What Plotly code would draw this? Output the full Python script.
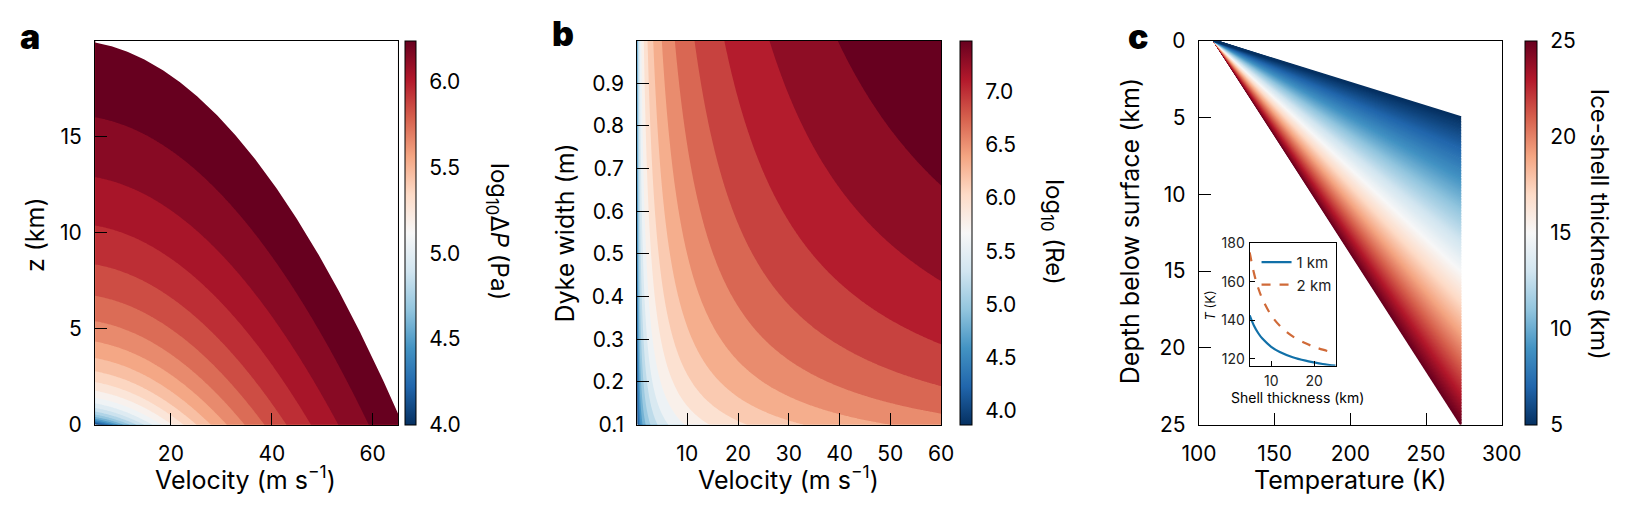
import numpy as np
import plotly.graph_objects as go
from plotly.colors import sample_colorscale

# ------------------------------------------------------------------
# Values
# ------------------------------------------------------------------
# Panel a : log10 ΔP over velocity and height z
dp_velocity_range = [5.0, 65.0]        # m s-1 (x extent)
dp_z_top_km = 19.9                     # top of the computed domain at the left edge
dp_z_axis_range = [0.0, 20.0]
dp_log10_range = [4.0, 6.24]           # colour-bar limits
dp_n_levels = 24
dp_curvature = 0.0046                  # km per (m s-1)^2, shape of the iso-lines
a_xticks = [20, 40, 60]
a_yticks = [0, 5, 10, 15]
a_cbar_ticks = [4.0, 4.5, 5.0, 5.5, 6.0]

# Panel b : log10 Re over velocity and dyke width
re_velocity_range = [0.15, 60.0]
re_width_range = [0.1, 1.0]
re_log10_range = [3.873, 7.475]
re_n_levels = 20
b_xticks = [10, 20, 30, 40, 50, 60]
b_yticks = [0.1, 0.2, 0.3, 0.4, 0.5, 0.6, 0.7, 0.8, 0.9]
b_cbar_ticks = [4.0, 4.5, 5.0, 5.5, 6.0, 6.5, 7.0]

# Panel c : conductive temperature profiles
surface_T = 110.0                      # K
base_T = 273.15                        # K
shell_thickness_range = [5.0, 25.0]    # km
n_profiles = 201
c_xticks = [100, 150, 200, 250, 300]
c_yticks = [0, 5, 10, 15, 20, 25]
c_cbar_ticks = [5, 10, 15, 20, 25]

# Inset : temperature at fixed depth vs shell thickness
inset_thickness = [5, 6, 7, 8, 10, 12, 15, 18, 20, 22, 25]
inset_T_1km = [142.6, 137.2, 133.3, 130.4, 126.3, 123.6, 120.9, 119.1, 118.2, 117.4, 116.5]
inset_T_2km = [175.2, 164.3, 156.6, 150.8, 142.6, 137.2, 131.7, 128.1, 126.3, 124.8, 123.0]
inset_xticks = [10, 20]
inset_yticks = [120, 140, 160, 180]

# ------------------------------------------------------------------
W, H = 1636, 507
FONT = "Inter"
RDBU_R = ['#053061', '#2166ac', '#4393c3', '#92c5de', '#d1e5f0', '#f7f7f7',
          '#fddbc7', '#f4a582', '#d6604d', '#b2182b', '#67001f']
rdbu_r = [[i / 10, c] for i, c in enumerate(RDBU_R)]


def X(px):
    return px / W


def Y(py):
    return 1 - py / H


y_dom = [Y(433), Y(29)]

# ---------------- panel a field ----------------
v_a = np.linspace(dp_velocity_range[0], dp_velocity_range[1], 241)
z_a = np.unique(np.concatenate([np.linspace(0, dp_z_axis_range[1], 201),
                                np.geomspace(1e-3, 3.0, 120), [0.0]]))
V, Z = np.meshgrid(v_a, z_a)
v0 = dp_velocity_range[0]
log_dp = dp_log10_range[0] + np.log10((Z + dp_curvature * V ** 2) / (dp_curvature * v0 ** 2))
log_dp = np.round(log_dp, 4)
cs_a = (dp_log10_range[1] - dp_log10_range[0]) / dp_n_levels
# outer limit of the computed domain (iso-line through the top-left corner)
z_lim = dp_z_top_km + dp_curvature * (v0 ** 2 - v_a ** 2)

# ---------------- panel b field ----------------
v_b = np.unique(np.concatenate([np.geomspace(re_velocity_range[0], 6, 120),
                                np.linspace(re_velocity_range[0], re_velocity_range[1], 240)]))
w_b = np.linspace(re_width_range[0], re_width_range[1], 181)
VB, WB = np.meshgrid(v_b, w_b)
log_re = re_log10_range[1] + np.log10(VB * WB / (re_velocity_range[1] * re_width_range[1]))
log_re = np.round(log_re, 4)
cs_b = (re_log10_range[1] - re_log10_range[0]) / re_n_levels


def cbar(xpx, thick, ticks, fmt):
    return dict(x=X(xpx), xanchor='left', xpad=0, y=y_dom[0], yanchor='bottom', ypad=0,
                len=y_dom[1] - y_dom[0], lenmode='fraction', thickness=thick,
                thicknessmode='pixels', outlinewidth=1, outlinecolor='black',
                tickmode='array', tickvals=ticks, ticktext=[fmt.format(t) for t in ticks],
                ticks='outside', ticklen=9, tickcolor='rgba(0,0,0,0)',
                tickfont=dict(size=21, color='black', family=FONT))


def scale_trace(xa, ya, rng, cb):
    # invisible trace that only carries a continuous colour bar
    return go.Scatter(x=[None, None], y=[None, None], mode='markers', xaxis=xa, yaxis=ya,
                      marker=dict(color=rng, colorscale=rdbu_r, cmin=rng[0], cmax=rng[1],
                                  showscale=True, colorbar=cb),
                      showlegend=False, hoverinfo='skip')


fig = go.Figure()

fig.add_trace(go.Contour(
    x=v_a, y=z_a, z=log_dp, xaxis='x', yaxis='y',
    colorscale=rdbu_r, zmin=dp_log10_range[0], zmax=dp_log10_range[1],
    autocontour=False, showscale=False,
    contours=dict(start=dp_log10_range[0] + cs_a, end=dp_log10_range[1] - cs_a * 0.999,
                  size=cs_a, coloring='fill', showlines=False),
    line=dict(width=0), hoverinfo='skip'))
fig.add_trace(scale_trace('x', 'y', dp_log10_range, cbar(396, 11, a_cbar_ticks, "{:.1f}")))

# white area beyond the computed domain
fig.add_trace(go.Scatter(
    x=np.concatenate([v_a, [v_a[-1] + 5, v_a[-1] + 5, v_a[0]]]),
    y=np.concatenate([z_lim, [z_lim[-1], dp_z_axis_range[1] + 5, dp_z_axis_range[1] + 5]]),
    fill='toself', fillcolor='white', mode='lines', line=dict(width=0),
    xaxis='x', yaxis='y', showlegend=False, hoverinfo='skip'))

fig.add_trace(go.Contour(
    x=v_b, y=w_b, z=log_re, xaxis='x2', yaxis='y2',
    colorscale=rdbu_r, zmin=re_log10_range[0], zmax=re_log10_range[1],
    autocontour=False, showscale=False,
    contours=dict(start=re_log10_range[0] + cs_b, end=re_log10_range[1] - cs_b * 0.999,
                  size=cs_b, coloring='fill', showlines=False),
    line=dict(width=0), hoverinfo='skip'))
fig.add_trace(scale_trace('x2', 'y2', re_log10_range, cbar(964, 12, b_cbar_ticks, "{:.1f}")))

# panel c profiles
thick = np.linspace(shell_thickness_range[0], shell_thickness_range[1], n_profiles)
cols = sample_colorscale(rdbu_r, list((thick - thick[0]) / (thick[-1] - thick[0])))
for D, col in zip(thick[::-1], cols[::-1]):
    fig.add_trace(go.Scatter(x=[surface_T, base_T], y=[0, D], mode='lines',
                             line=dict(color=col, width=2.2), xaxis='x3', yaxis='y3',
                             showlegend=False, hoverinfo='skip'))
fig.add_trace(scale_trace('x3', 'y3', shell_thickness_range,
                          cbar(1543, 12, c_cbar_ticks, "{:d}")))

# inset
fig.add_trace(go.Scatter(x=inset_thickness, y=inset_T_1km, mode='lines', name='1 km',
                         line=dict(color='#1170a8', width=2.2, shape='spline'),
                         xaxis='x4', yaxis='y4'))
fig.add_trace(go.Scatter(x=inset_thickness, y=inset_T_2km, mode='lines', name='2 km',
                         line=dict(color='#d06a38', width=2.2, dash='dash', shape='spline'),
                         xaxis='x4', yaxis='y4'))

axis_common = dict(showline=True, linecolor='black', linewidth=1.2, mirror=True,
                   ticks='inside', ticklen=12, tickwidth=1.2, tickcolor='black',
                   showgrid=False, zeroline=False,
                   tickfont=dict(size=21, color='black', family=FONT))
xax = dict(axis_common, ticklabelstandoff=10)
yax = dict(axis_common, ticklabelstandoff=8)

fig.update_layout(
    width=W, height=H, margin=dict(l=0, r=0, t=0, b=0),
    paper_bgcolor='white', plot_bgcolor='white',
    font=dict(family=FONT, color='black'),
    xaxis=dict(domain=[X(79), X(389)], range=dp_velocity_range, anchor='y',
               tickvals=a_xticks, **xax),
    yaxis=dict(domain=y_dom, range=dp_z_axis_range, anchor='x',
               tickvals=a_yticks, **yax),
    xaxis2=dict(domain=[X(634), X(945)], range=re_velocity_range, anchor='y2',
                tickvals=b_xticks, **xax),
    yaxis2=dict(domain=y_dom, range=re_width_range, anchor='x2',
                tickvals=b_yticks, ticktext=[f"{t:.1f}" for t in b_yticks], **yax),
    xaxis3=dict(domain=[X(1209), X(1519)], range=[100, 300], anchor='y3',
                tickvals=c_xticks, **xax),
    yaxis3=dict(domain=y_dom, range=[25, 0], anchor='x3',
                tickvals=c_yticks, **yax),
    xaxis4=dict(domain=[X(1261), X(1349)], range=[5, 25], anchor='y4',
                tickvals=inset_xticks, showline=True, linecolor='black', linewidth=1.2,
                mirror=True, ticks='inside', ticklen=5, tickcolor='black', showgrid=False,
                zeroline=False, ticklabelstandoff=2,
                tickfont=dict(size=14, color='#222', family=FONT)),
    yaxis4=dict(domain=[Y(371), Y(242)], range=[116.5, 180], anchor='x4',
                tickvals=inset_yticks, showline=True, linecolor='black', linewidth=1.2,
                mirror=True, ticks='inside', ticklen=5, tickcolor='black', showgrid=False,
                zeroline=False, ticklabelstandoff=1,
                tickfont=dict(size=14, color='#222', family=FONT)),
    legend=dict(x=X(1268), y=Y(245), xanchor='left', yanchor='top',
                bgcolor='rgba(0,0,0,0)', font=dict(size=15, family=FONT, color='#222'),
                itemwidth=30, tracegroupgap=0),
    showlegend=True,
)

ann = []


def add_text(text, xpx, ypx, size, angle=0, xanchor='center', yanchor='middle', weight=None):
    f = dict(size=size, family=FONT, color='black')
    if weight:
        f['weight'] = weight
    ann.append(dict(text=text, x=X(xpx), y=Y(ypx), xref='paper', yref='paper',
                    showarrow=False, textangle=angle, xanchor=xanchor, yanchor=yanchor,
                    font=f))


add_text("a", 0, 1, 34, xanchor='left', yanchor='top', weight=900)
add_text("b", 545, -2, 34, xanchor='left', yanchor='top', weight=900)
add_text("c", 1134, 1, 34, xanchor='left', yanchor='top', weight=900)

add_text("Velocity (m s<sup>−1</sup>)", 233, 489, 25)
add_text("z (km)", 17, 233, 25, angle=-90)
add_text("Velocity (m s<sup>−1</sup>)", 789, 489, 25)
add_text("Dyke width (m)", 560, 231, 25, angle=-90)
add_text("Temperature (K)", 1364, 491, 25)
add_text("Depth below surface (km)", 1138, 230, 25, angle=-90)

add_text("log<sub>10</sub>Δ<i>P</i> (Pa)", 492, 230, 24, angle=90)
add_text("log<sub>10</sub> (Re)", 1060, 230, 24, angle=90)
add_text("Ice-shell thickness (km)", 1620, 222, 24, angle=90)

add_text("Shell thickness (km)", 1310, 404, 14)
add_text("<i>T</i> (K)", 1220, 308, 13, angle=-90)

fig.update_layout(annotations=ann)

fig.write_html("out.html")
